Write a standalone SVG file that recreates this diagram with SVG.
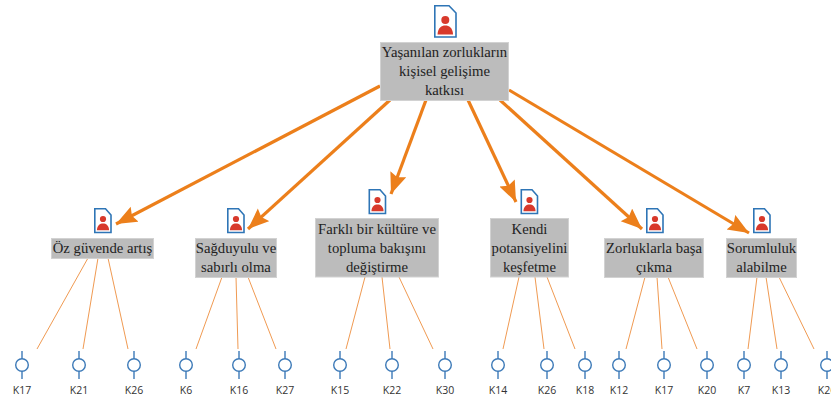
<svg xmlns="http://www.w3.org/2000/svg" width="831" height="401" viewBox="0 0 831 401">
<style>
.box{fill:#bcbcbc;stroke:#d2d2d2;stroke-width:1}
.t{font-family:"Liberation Serif",serif;font-size:14.7px;fill:#222;text-anchor:middle}
.k{font-family:"Open Sans","Noto Sans",sans-serif;font-size:10.5px;fill:#333;text-anchor:middle}
.thick{stroke:#ec7f1b;stroke-width:3.2;fill:none;marker-end:url(#arr)}
.thin{stroke:#f09a52;stroke-width:1;fill:none}
.doc{fill:#fff;stroke:#2e75b6;stroke-width:1.6}
.p{fill:#d8392b}
.ind{fill:#fff;stroke:#3d7ab8;stroke-width:1.4}
.st{stroke:#3d7ab8;stroke-width:1.4}
</style>
<defs>
<marker id="arr" markerUnits="userSpaceOnUse" markerWidth="22" markerHeight="18" refX="21" refY="8.500" orient="auto" viewBox="0 0 22 18">
<path d="M0 0L21 8.500L0 17L3 8.500Z" fill="#ec7f1b"/>
</marker>
<g id="ico"><path class="doc" d="M0.8 0.8H11.5L17 7V24.5H0.8Z"/><circle class="p" cx="9" cy="11" r="3.1"/><path class="p" d="M2.9 22.3C3.2 17 6 15.4 9 15.4S14.8 17 15.1 22.3Z"/></g>
<g id="ico2"><path class="doc" d="M0.8 0.8H15L22 8V32H0.8Z"/><circle class="p" cx="11.3" cy="15" r="4"/><path class="p" d="M3.5 29.5C4 22.5 7.5 20.5 11.3 20.5S18.6 22.5 19.1 29.5Z"/></g>
<g id="ind"><path class="st" d="M0 -14V-6M0 6V14"/><circle class="ind" r="6.3"/></g>
</defs>
<g id="connectors">
<path class="thick" d="M380 86L116 224"/>
<path class="thick" d="M390 100L248 229"/>
<path class="thick" d="M426 100L391 194"/>
<path class="thick" d="M468 100L516 202"/>
<path class="thick" d="M500 100L642 229"/>
<path class="thick" d="M509 90L749 233"/>
<path class="thin" d="M88 258L37 349M98 258L83 349M108 258L128 349"/>
<path class="thin" d="M222 277L196 349M236 277L238 349M248 277L276 349"/>
<path class="thin" d="M365 277L346 349M382 277L390 349M399 277L433 349"/>
<path class="thin" d="M519 277L503 349M535 277L544 349M547 277L575 349"/>
<path class="thin" d="M645 277L626 349M657 277L662 349M668 277L697 349"/>
<path class="thin" d="M757 277L748 349M766 277L777 349M779 277L814 349"/>
</g>
<g id="root"><use href="#ico2" x="434" y="5"/><rect class="box" x="380.500" y="42.500" width="128" height="58"/><text class="t" x="444.500" y="57">Yaşanılan zorlukların</text><text class="t" x="444.500" y="76">kişisel gelişime</text><text class="t" x="444.500" y="95">katkısı</text></g>
<g id="n1"><use href="#ico" x="94" y="208"/><rect class="box" x="51.500" y="238.500" width="102" height="20"/><text class="t" x="102.500" y="253">Öz güvende artış</text></g>
<g id="n2"><use href="#ico" x="227" y="208"/><rect class="box" x="195.500" y="238.500" width="81" height="39"/><text class="t" x="236" y="253">Sağduyulu ve</text><text class="t" x="236" y="272">sabırlı olma</text></g>
<g id="n3"><use href="#ico" x="368.500" y="189"/><rect class="box" x="315.500" y="218.500" width="123" height="58.500"/><text class="t" x="377" y="234">Farklı bir kültüre ve</text><text class="t" x="377" y="253">topluma bakışını</text><text class="t" x="377" y="272">değiştirme</text></g>
<g id="n4"><use href="#ico" x="520.500" y="189"/><rect class="box" x="490.500" y="218.500" width="78" height="58.500"/><text class="t" x="529.500" y="234">Kendi</text><text class="t" x="529.500" y="253">potansiyelini</text><text class="t" x="529.500" y="272">keşfetme</text></g>
<g id="n5"><use href="#ico" x="646" y="208"/><rect class="box" x="604.500" y="238.500" width="99" height="39"/><text class="t" x="654" y="253">Zorluklarla başa</text><text class="t" x="654" y="272">çıkma</text></g>
<g id="n6"><use href="#ico" x="753" y="208"/><rect class="box" x="726.500" y="238.500" width="70" height="39"/><text class="t" x="761.500" y="253">Sorumluluk</text><text class="t" x="761.500" y="272">alabilme</text></g>
<g id="k1"><use href="#ind" x="22" y="365"/><text class="k" x="22" y="394">K17</text></g>
<g id="k2"><use href="#ind" x="79" y="365"/><text class="k" x="79" y="394">K21</text></g>
<g id="k3"><use href="#ind" x="134" y="365"/><text class="k" x="134" y="394">K26</text></g>
<g id="k4"><use href="#ind" x="186" y="365"/><text class="k" x="186" y="394">K6</text></g>
<g id="k5"><use href="#ind" x="239" y="365"/><text class="k" x="239" y="394">K16</text></g>
<g id="k6"><use href="#ind" x="285" y="365"/><text class="k" x="285" y="394">K27</text></g>
<g id="k7"><use href="#ind" x="340" y="365"/><text class="k" x="340" y="394">K15</text></g>
<g id="k8"><use href="#ind" x="392" y="365"/><text class="k" x="392" y="394">K22</text></g>
<g id="k9"><use href="#ind" x="445" y="365"/><text class="k" x="445" y="394">K30</text></g>
<g id="k10"><use href="#ind" x="498" y="365"/><text class="k" x="498" y="394">K14</text></g>
<g id="k11"><use href="#ind" x="547" y="365"/><text class="k" x="547" y="394">K26</text></g>
<g id="k12"><use href="#ind" x="585" y="365"/><text class="k" x="585" y="394">K18</text></g>
<g id="k13"><use href="#ind" x="619" y="365"/><text class="k" x="619" y="394">K12</text></g>
<g id="k14"><use href="#ind" x="664" y="365"/><text class="k" x="664" y="394">K17</text></g>
<g id="k15"><use href="#ind" x="707" y="365"/><text class="k" x="707" y="394">K20</text></g>
<g id="k16"><use href="#ind" x="744" y="365"/><text class="k" x="744" y="394">K7</text></g>
<g id="k17"><use href="#ind" x="781" y="365"/><text class="k" x="781" y="394">K13</text></g>
<g id="k18"><use href="#ind" x="827" y="365"/><text class="k" x="827" y="394">K26</text></g>
</svg>
